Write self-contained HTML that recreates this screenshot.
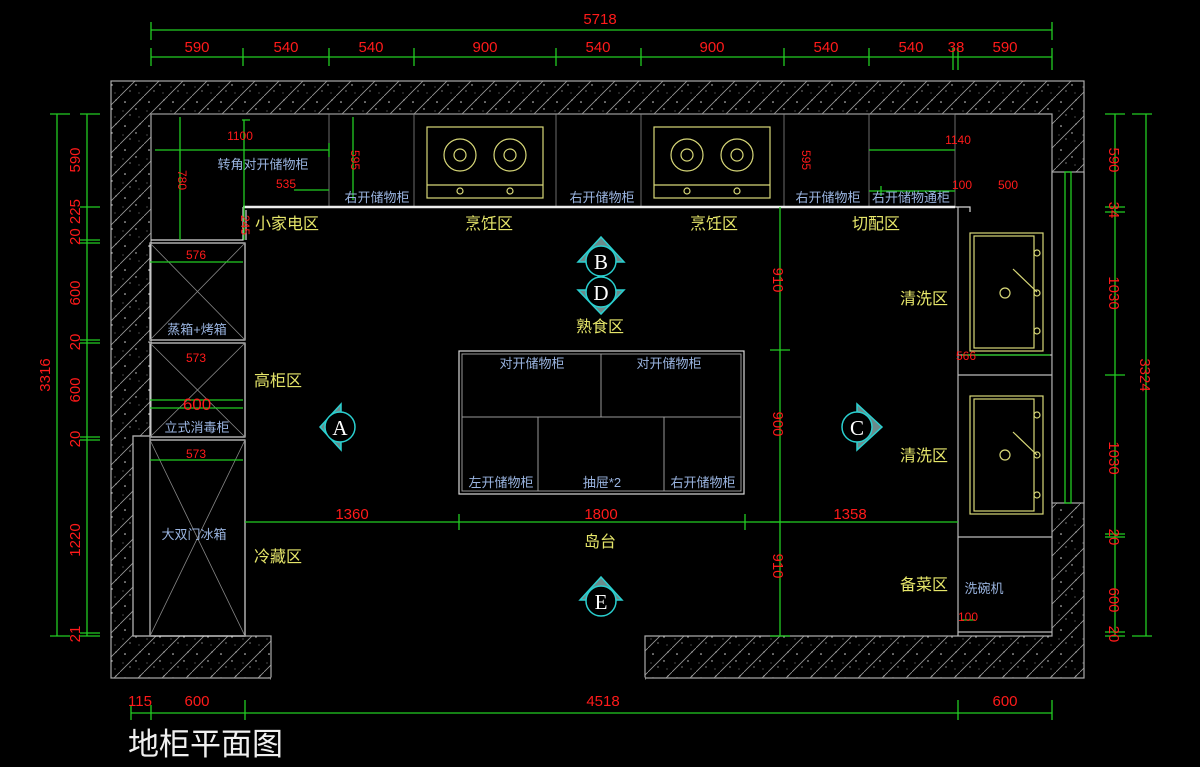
<!DOCTYPE html>
<html><head><meta charset="utf-8"><style>
html,body{margin:0;padding:0;background:#000;}
svg{display:block}
.d{fill:#ff1a1a;font-family:"Liberation Sans Narrow","Liberation Sans",sans-serif;font-size:15px;text-anchor:middle}
.c{fill:#9ab4e0;font-family:"Liberation Sans","Noto Sans CJK SC",sans-serif;font-size:13px;text-anchor:middle}
.z{fill:#e6e66a;font-family:"Liberation Sans","Noto Sans CJK SC",sans-serif;font-size:16px;text-anchor:middle}
.m{fill:#fff;font-family:"Liberation Serif",serif;font-size:21px;text-anchor:middle}
.g{stroke:#22cc22;stroke-width:1.3;fill:none}
.w{stroke:#d8d8d8;stroke-width:1.2;fill:none}
.y{stroke:#d8d878;stroke-width:1.2;fill:none}
.x{stroke:#888;stroke-width:0.8}
</style></head><body>
<svg width="1200" height="767" viewBox="0 0 1200 767" xmlns="http://www.w3.org/2000/svg">
<defs>
<pattern id="h" width="24" height="24" patternUnits="userSpaceOnUse">
<rect width="24" height="24" fill="#000"/>
<path d="M0 24L24 0" stroke="#999" stroke-width="0.8"/>
<circle cx="5" cy="6" r="0.8" fill="#ddd"/><circle cx="16" cy="13" r="0.7" fill="#ddd"/><circle cx="10" cy="19" r="0.6" fill="#ccc"/><circle cx="20" cy="4" r="0.6" fill="#ccc"/><circle cx="3" cy="15" r="0.5" fill="#bbb"/><circle cx="19" cy="21" r="0.5" fill="#bbb"/>
</pattern>
</defs>
<rect width="1200" height="767" fill="#000"/>
<!-- walls -->
<rect x="111" y="81" width="973" height="597" fill="url(#h)" stroke="#aaa" stroke-width="1.2"/>
<path d="M151,114 H1052 V636 H645 V679 H271 V636 H133 V436 H151 Z" fill="#000" stroke="#aaa" stroke-width="1.2"/>
<rect x="1052" y="172" width="32" height="331" fill="#000" stroke="#aaa" stroke-width="1.2"/>
<rect x="1065" y="172" width="6" height="331" class="g"/>
<line x1="271" y1="679" x2="645" y2="679" stroke="#000" stroke-width="3"/>

<!-- top cabinets -->
<path d="M151,114 H955 M329,114 V207 M414,114 V207 M556,114 V207 M641,114 V207 M784,114 V207 M869,114 V207 M955,114 V207" class="x" stroke="#999"/>
<path d="M151,240 H243 V207" class="w"/>
<path d="M243,207 H955" stroke="#eee" stroke-width="2.5"/>
<path d="M246,210 V240" class="w"/>
<!-- stoves -->
<g class="y">
<rect x="427" y="127" width="116" height="71"/><line x1="427" y1="185" x2="543" y2="185"/>
<circle cx="460" cy="155" r="16"/><circle cx="460" cy="155" r="6"/><circle cx="510" cy="155" r="16"/><circle cx="510" cy="155" r="6"/>
<circle cx="460" cy="191" r="3"/><circle cx="510" cy="191" r="3"/>
<rect x="654" y="127" width="116" height="71"/><line x1="654" y1="185" x2="770" y2="185"/>
<circle cx="687" cy="155" r="16"/><circle cx="687" cy="155" r="6"/><circle cx="737" cy="155" r="16"/><circle cx="737" cy="155" r="6"/>
<circle cx="687" cy="191" r="3"/><circle cx="737" cy="191" r="3"/>
</g>
<!-- left column -->
<g class="w">
<rect x="150" y="243" width="95" height="97"/><rect x="150" y="343" width="95" height="94"/><rect x="150" y="440" width="95" height="196"/>
<rect x="133" y="436" width="17" height="200" stroke="#aaa"/>
</g>
<g class="x">
<path d="M150,243 L245,340 M245,243 L150,340 M150,343 L245,437 M245,343 L150,437 M150,440 L245,636 M245,440 L150,636"/>
</g>
<!-- right column -->
<g class="w">
<path d="M958,207 V636 M958,355 H1052 M958,375 H1052 M958,537 H1052 M958,632 H1052" stroke="#bbb"/>
<path d="M955,207 H970 V212" />
</g>
<g class="y">
<rect x="970" y="233" width="73" height="118"/><rect x="974" y="236" width="60" height="112"/>
<circle cx="1005" cy="293" r="5"/><circle cx="1037" cy="253" r="3"/><circle cx="1037" cy="293" r="3"/><circle cx="1037" cy="331" r="3"/>
<line x1="1013" y1="269" x2="1037" y2="292"/>
<rect x="970" y="396" width="73" height="118"/><rect x="974" y="399" width="60" height="112"/>
<circle cx="1005" cy="455" r="5"/><circle cx="1037" cy="415" r="3"/><circle cx="1037" cy="455" r="3"/><circle cx="1037" cy="495" r="3"/>
<line x1="1013" y1="432" x2="1037" y2="455"/>
</g>
<!-- island -->
<rect x="459" y="351" width="285" height="143" class="w"/>
<rect x="462" y="354" width="279" height="137" stroke="#999" fill="none"/>
<path d="M462,417 H741 M601,354 V417 M538,417 V491 M664,417 V491" stroke="#999" fill="none"/>

<!-- green dims -->
<g class="g">
<path d="M151,30 H1052 M151,22 V40 M1052,22 V40"/>
<path d="M151,57 H1052 M151,48 V66 M243,48 V66 M329,48 V66 M414,48 V66 M556,48 V66 M641,48 V66 M784,48 V66 M869,48 V66 M953,48 V70 M958,48 V70 M1052,48 V70"/>
<path d="M57,114 V636 M50,114 H70 M50,636 H70"/>
<path d="M87,114 V636 M80,114 H100 M80,207 H100 M80,240 H100 M80,243 H100 M80,340 H100 M80,343 H100 M80,437 H100 M80,440 H100 M80,633 H100 M80,636 H100"/>
<path d="M1115,114 V636 M1105,114 H1125 M1105,207 H1125 M1105,212 H1125 M1105,375 H1125 M1105,534 H1125 M1105,537 H1125 M1105,632 H1125 M1105,636 H1125"/>
<path d="M1146,114 V636 M1132,114 H1152 M1132,636 H1152"/>
<path d="M131,713 H1052 M131,705 V720 M151,705 V720 M245,700 V720 M958,700 V720 M1052,700 V720"/>
<path d="M245,522 H958 M459,514 V530 M745,514 V530"/>
<path d="M780,207 V636 M770,350 H790 M770,522 H790 M770,636 H790"/>
<path d="M155,150 H329 M329,143 V157 M180,117 V240 M244,120 V240 M242,120 H250 M294,190 H329 M244,192 V240 M353,117 V200 M869,150 H955 M869,191 H955 M881,186 V196 M150,262 H243 M150,400 H243 M150,408 H243 M150,460 H243 M962,355 H1050 M962,620 H975"/>
</g>

<!-- dim texts -->
<text x="600" y="24" class="d">5718</text>
<g>
<text x="197" y="52" class="d">590</text><text x="286" y="52" class="d">540</text><text x="371" y="52" class="d">540</text><text x="485" y="52" class="d">900</text><text x="598" y="52" class="d">540</text><text x="712" y="52" class="d">900</text><text x="826" y="52" class="d">540</text><text x="911" y="52" class="d">540</text><text x="956" y="52" class="d">38</text><text x="1005" y="52" class="d">590</text>
</g>
<text transform="translate(50,375) rotate(-90)" class="d">3316</text>
<text transform="translate(80,160) rotate(-90)" class="d">590</text>
<text transform="translate(80,222) rotate(-90)" class="d">20 225</text>
<text transform="translate(80,293) rotate(-90)" class="d">600</text>
<text transform="translate(80,342) rotate(-90)" class="d">20</text>
<text transform="translate(80,390) rotate(-90)" class="d">600</text>
<text transform="translate(80,439) rotate(-90)" class="d">20</text>
<text transform="translate(80,540) rotate(-90)" class="d">1220</text>
<text transform="translate(80,634) rotate(-90)" class="d">21</text>
<text transform="translate(1109,160) rotate(90)" class="d">590</text>
<text transform="translate(1109,210) rotate(90)" class="d">34</text>
<text transform="translate(1109,293) rotate(90)" class="d">1030</text>
<text transform="translate(1109,458) rotate(90)" class="d">1030</text>
<text transform="translate(1109,537) rotate(90)" class="d">20</text>
<text transform="translate(1109,600) rotate(90)" class="d">600</text>
<text transform="translate(1109,634) rotate(90)" class="d">20</text>
<text transform="translate(1140,375) rotate(90)" class="d">3324</text>
<text transform="translate(773,280) rotate(90)" class="d">910</text>
<text transform="translate(773,424) rotate(90)" class="d">900</text>
<text transform="translate(773,566) rotate(90)" class="d">910</text>
<text x="352" y="519" class="d">1360</text><text x="601" y="519" class="d">1800</text><text x="850" y="519" class="d">1358</text>
<text x="140" y="706" class="d">115</text><text x="197" y="706" class="d">600</text><text x="603" y="706" class="d">4518</text><text x="1005" y="706" class="d">600</text>
<text x="240" y="140" class="d" style="font-size:12px">1100</text>
<text x="286" y="188" class="d" style="font-size:12px">535</text>
<text transform="translate(178,180) rotate(90)" class="d" style="font-size:12px">780</text>
<text transform="translate(241,225) rotate(90)" class="d" style="font-size:12px">245</text>
<text transform="translate(351,160) rotate(90)" class="d" style="font-size:12px">595</text>
<text transform="translate(802,160) rotate(90)" class="d" style="font-size:12px">595</text>
<text x="958" y="144" class="d" style="font-size:12px">1140</text>
<text x="962" y="189" class="d" style="font-size:12px">100</text><text x="1008" y="189" class="d" style="font-size:12px">500</text>
<text x="196" y="259" class="d" style="font-size:12px">576</text>
<text x="196" y="362" class="d" style="font-size:12px">573</text>
<text x="197" y="410" class="d" style="font-size:17px">600</text>
<text x="196" y="458" class="d" style="font-size:12px">573</text>
<text x="966" y="360" class="d" style="font-size:12px">566</text>
<text x="968" y="621" class="d" style="font-size:12px">100</text>

<!-- cabinet labels -->
<text x="263" y="169" class="c">转角对开储物柜</text>
<text x="377" y="202" class="c">右开储物柜</text>
<text x="602" y="202" class="c">右开储物柜</text>
<text x="828" y="202" class="c">右开储物柜</text>
<text x="911" y="202" class="c">右开储物通柜</text>
<text x="197" y="334" class="c">蒸箱+烤箱</text>
<text x="197" y="432" class="c">立式消毒柜</text>
<text x="194" y="539" class="c">大双门冰箱</text>
<text x="532" y="368" class="c">对开储物柜</text>
<text x="669" y="368" class="c">对开储物柜</text>
<text x="501" y="487" class="c">左开储物柜</text>
<text x="602" y="487" class="c">抽屉*2</text>
<text x="703" y="487" class="c">右开储物柜</text>
<text x="984" y="593" class="c">洗碗机</text>

<!-- zone labels -->
<text x="287" y="229" class="z">小家电区</text>
<text x="489" y="229" class="z">烹饪区</text>
<text x="714" y="229" class="z">烹饪区</text>
<text x="876" y="229" class="z">切配区</text>
<text x="600" y="332" class="z">熟食区</text>
<text x="278" y="386" class="z">高柜区</text>
<text x="924" y="304" class="z">清洗区</text>
<text x="924" y="461" class="z">清洗区</text>
<text x="600" y="547" class="z">岛台</text>
<text x="278" y="562" class="z">冷藏区</text>
<text x="924" y="590" class="z">备菜区</text>

<!-- markers -->
<g stroke="#2ad0d0" stroke-width="1.5">
<polygon points="320,427 341,404 341,450" fill="#6a8c8c"/>
<polygon points="882,427 857,404 857,450" fill="#6a8c8c"/>
<polygon points="601,237 578,262 624,262" fill="#6a8c8c"/>
<polygon points="601,314 578,290 624,290" fill="#6a8c8c"/>
<polygon points="601,577 580,600 622,600" fill="#6a8c8c"/>
<circle cx="340" cy="427" r="15" fill="#000"/>
<circle cx="857" cy="427" r="15" fill="#000"/>
<circle cx="601" cy="261" r="15" fill="#000"/>
<circle cx="601" cy="292" r="15" fill="#000"/>
<circle cx="601" cy="601" r="15" fill="#000"/>
</g>
<text x="340" y="435" class="m">A</text>
<text x="857" y="435" class="m">C</text>
<text x="601" y="269" class="m">B</text>
<text x="601" y="300" class="m">D</text>
<text x="601" y="609" class="m">E</text>

<text x="128" y="755" style="fill:#f0f0f0;font-family:'Liberation Sans','Noto Sans CJK SC',sans-serif;font-size:31px">地柜平面图</text>
</svg>
</body></html>
